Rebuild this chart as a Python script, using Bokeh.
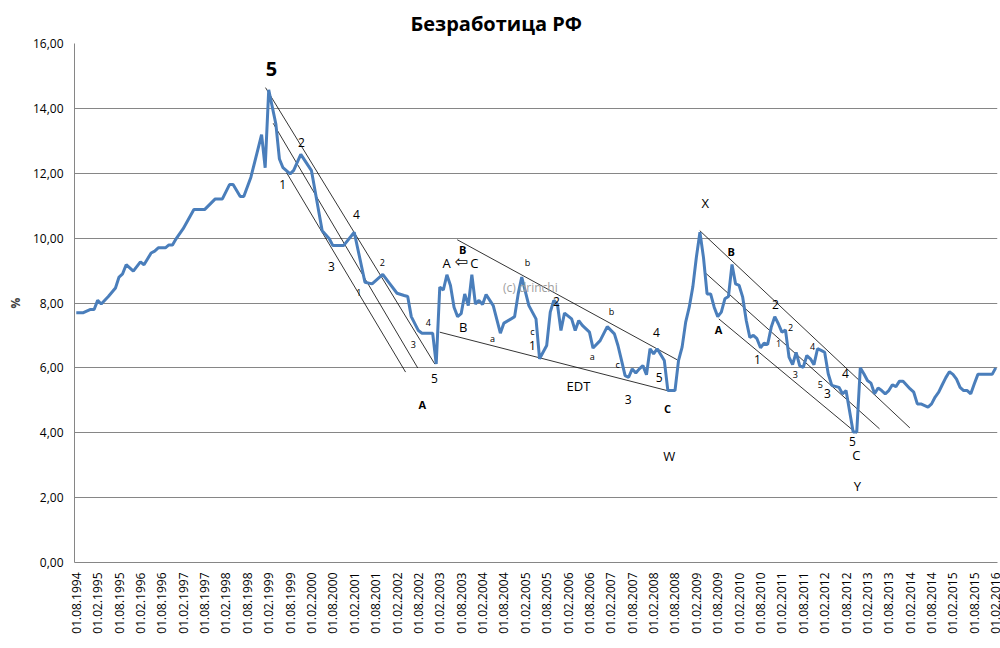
from bokeh.plotting import figure
from bokeh.models import FixedTicker, ColumnDataSource, Range1d
from bokeh.core.properties import value
from bokeh.embed import file_html
from bokeh.resources import INLINE
import math

# ---- data: month offset from 01.08.1994, unemployment % ----
months = [0, 2, 4, 5, 6, 7, 9, 11, 12, 13, 14, 16, 18, 19, 21, 22, 23, 25, 26, 27, 28, 30,
          33, 36, 39, 41, 43, 44, 46, 47, 49, 51, 52, 53, 54, 56, 57, 58, 60, 61, 63, 66,
          69, 71, 72, 75, 78, 81, 83, 86, 88, 90, 92, 93, 94, 96, 97, 100, 101, 102, 103,
          104, 105, 106, 107, 108, 109, 110, 111, 112, 113, 114, 115, 117, 119, 120, 122,
          123, 124, 125, 127, 129, 130, 132, 133, 134, 135, 136, 137, 139, 140, 141, 142,
          144, 145, 147, 149, 151, 152, 153, 154, 155, 156, 157, 158, 159, 160, 161, 162,
          163, 165, 166, 168, 169, 170, 171, 172, 173, 174, 175, 176, 177, 178, 179, 180,
          181, 182, 183, 184, 185, 186, 187, 188, 189, 190, 191, 192, 193, 194, 195, 196,
          197, 198, 199, 200, 201, 202, 203, 204, 205, 206, 207, 208, 209, 210, 211, 212,
          214, 215, 216, 218, 219, 220, 221, 222, 223, 224, 225, 226, 227, 228, 229, 230,
          231, 232, 234, 235, 236, 237, 239, 240, 241, 242, 243, 244, 245, 246, 247, 248,
          249, 250, 251, 252, 253, 257, 258]
unemployment = [7.70, 7.70, 7.80, 7.80, 8.08, 7.97, 8.20, 8.46, 8.80, 8.90, 9.18, 8.98, 9.27,
                9.18, 9.54, 9.60, 9.70, 9.70, 9.79, 9.79, 9.98, 10.29, 10.88, 10.88, 11.21,
                11.21, 11.65, 11.65, 11.28, 11.28, 11.88, 12.75, 13.19, 12.17, 14.57, 13.52,
                12.44, 12.17, 11.98, 12.09, 12.58, 12.08, 10.23, 9.98, 9.77, 9.77, 10.18,
                8.64, 8.59, 8.88, 8.59, 8.30, 8.23, 8.20, 7.58, 7.15, 7.07, 7.07, 6.12, 8.49,
                8.40, 8.87, 8.54, 7.87, 7.58, 7.67, 8.28, 7.92, 8.87, 7.97, 8.08, 7.95, 8.26,
                7.92, 7.07, 7.38, 7.51, 7.58, 8.28, 8.80, 7.92, 7.51, 6.28, 6.69, 7.72, 8.08,
                7.97, 7.15, 7.69, 7.51, 7.15, 7.46, 7.31, 7.10, 6.61, 6.84, 7.27, 7.05, 6.69,
                6.23, 5.76, 5.71, 5.97, 5.84, 5.97, 6.07, 5.79, 6.59, 6.43, 6.59, 6.23, 5.30,
                5.30, 6.23, 6.64, 7.41, 7.87, 8.49, 9.41, 10.18, 9.40, 8.28, 8.28, 7.87, 7.58,
                7.72, 8.13, 8.20, 9.19, 8.59, 8.54, 8.18, 7.46, 6.94, 7.00, 6.90, 6.62, 6.76,
                6.72, 7.25, 7.58, 7.36, 7.10, 7.17, 6.33, 6.10, 6.48, 6.06, 6.02, 6.38, 6.28,
                6.10, 6.59, 6.54, 6.48, 5.82, 5.46, 5.40, 5.20, 5.30, 4.02, 4.02, 6.00, 5.82,
                5.61, 5.53, 5.20, 5.38, 5.30, 5.20, 5.30, 5.48, 5.42, 5.59, 5.59, 5.35, 5.25,
                4.89, 4.89, 4.79, 4.89, 5.10, 5.25, 5.48, 5.70, 5.88, 5.80, 5.65, 5.40, 5.30,
                5.30, 5.20, 5.51, 5.80, 5.80, 6.00]

tick_months = list(range(0, 259, 6))
tick_labels = ["01.%02d.%d" % (8 if k % 2 == 0 else 2, 1994 + (k + 1) // 2) for k in range(len(tick_months))]
y_ticks = [0, 2, 4, 6, 8, 10, 12, 14, 16]
y_labels = ["%d,00" % t for t in y_ticks]

# channel / trend lines (month, value) endpoints
line_x0 = [53.1, 55.25, 59.0, 106.9, 102.0, 174.95, 176.3, 180.3]
line_y0 = [14.64, 13.54, 12.02, 9.95, 7.10, 10.23, 8.95, 7.51]
line_x1 = [100.6, 95.8, 92.4, 168.6, 165.8, 233.9, 225.4, 218.9]
line_y1 = [6.12, 6.00, 5.87, 6.25, 5.30, 4.15, 4.12, 3.99]

# wave labels
big_text, big_x, big_y = ["5"], [54.8], [15.2]
mid_text = ["2", "1", "4", "3", "5", "1", "2", "4", "5", "3", "1", "2", "3", "4", "5"]
mid_x = [63.2, 57.9, 78.6, 71.6, 100.5, 128.0, 134.7, 162.8, 163.6, 154.9, 191.1, 196.2, 210.8, 215.8, 217.8]
mid_y = [12.95, 11.65, 10.73, 9.12, 5.67, 6.69, 8.05, 7.09, 5.70, 5.02, 6.26, 7.95, 5.21, 5.83, 3.73]
small_text = ["2", "1", "4", "3", "a", "b", "c", "a", "b", "c", "2", "1", "4", "3", "5"]
small_x = [85.9, 79.3, 98.8, 94.6, 116.8, 126.6, 128.0, 144.8, 150.2, 151.9, 200.4, 197.1, 206.6, 201.8, 208.8]
small_y = [9.25, 8.31, 7.40, 6.72, 6.90, 9.25, 7.12, 6.35, 7.74, 6.10, 7.24, 6.75, 6.66, 5.80, 5.49]
let_text = ["A", "C", "B", "EDT", "W", "X", "C", "Y"]
let_x = [103.9, 111.7, 108.6, 140.9, 166.4, 176.5, 218.9, 219.2]
let_y = [9.22, 9.22, 7.27, 5.43, 3.27, 11.07, 3.30, 2.37]
bold_text = ["A", "B", "C", "B", "A"]
bold_x = [97.1, 108.4, 165.9, 183.8, 180.2]
bold_y = [4.87, 9.65, 4.75, 9.59, 7.18]
arrow_text, arrow_x, arrow_y = ["\u21e6"], [108.0], [9.27]
mark_text, mark_x, mark_y = ["(c)   drinchi"], [128.3], [8.48]

p = figure(width=1000, height=648, output_backend="svg", toolbar_location=None,
           x_range=Range1d(-0.5, 258.5), y_range=Range1d(0, 16),
           min_border_left=74, min_border_right=3, min_border_top=43, min_border_bottom=86,
           title="Безработица РФ")
p.title.align = "left"
p.title.offset = 336
p.title.standoff = 10
p.title.vertical_align = "top"
p.title.text_font = "Open Sans"
p.title.text_font_size = "20px"
p.title.text_font_style = "bold"
p.title.text_color = "#000000"
p.outline_line_color = None

p.xgrid.grid_line_color = None
p.ygrid.grid_line_color = "#868686"
p.ygrid.grid_line_width = 1
p.ygrid.ticker = FixedTicker(ticks=y_ticks)

p.yaxis.ticker = FixedTicker(ticks=y_ticks)
p.yaxis.major_label_overrides = {t: l for t, l in zip(y_ticks, y_labels)}
p.yaxis.axis_label = "%"
p.yaxis.axis_label_text_font = "Open Sans"
p.yaxis.axis_label_text_font_style = "bold"
p.yaxis.axis_label_text_font_size = "12px"
p.yaxis.axis_label_standoff = 6

p.xaxis.ticker = FixedTicker(ticks=tick_months)
p.xaxis.major_label_overrides = {t: l for t, l in zip(tick_months, tick_labels)}
p.xaxis.major_label_orientation = math.pi / 2

for ax in (p.xaxis, p.yaxis):
    ax.axis_line_color = "#868686"
    ax.major_tick_line_color = None
    ax.minor_tick_line_color = None
    ax.major_tick_out = 0
    ax.major_tick_in = 0
    ax.minor_tick_out = 0
    ax.minor_tick_in = 0
    ax.major_label_text_font = "Open Sans"
    ax.major_label_text_font_size = "12px"
    ax.major_label_text_color = "#000000"
p.yaxis.major_label_standoff = 11
p.xaxis.major_label_standoff = 10

p.segment(x0=line_x0, y0=line_y0, x1=line_x1, y1=line_y1, line_color="#000000", line_width=0.8)
p.line(months, unemployment, line_color="#4A7EBB", line_width=3)

def labels(t, x, y, size, style="normal", color="#000000", font="Open Sans"):
    src = ColumnDataSource(dict(x=x, y=y, t=t))
    p.text(x="x", y="y", text="t", source=src, text_font=value(font), text_font_size=size,
           text_font_style=style, text_color=color, text_align="center", text_baseline="middle")

labels(big_text, big_x, big_y, "20px", "bold")
labels(mid_text, mid_x, mid_y, "12px")
labels(small_text, small_x, small_y, "9px")
labels(let_text, let_x, let_y, "13px")
labels(bold_text, bold_x, bold_y, "11px", "bold")
labels(arrow_text, arrow_x, arrow_y, "16px", font="DejaVu Sans")
labels(mark_text, mark_x, mark_y, "12px", color="#A0A0A0")

open("out.html", "w").write(file_html(p, INLINE))
